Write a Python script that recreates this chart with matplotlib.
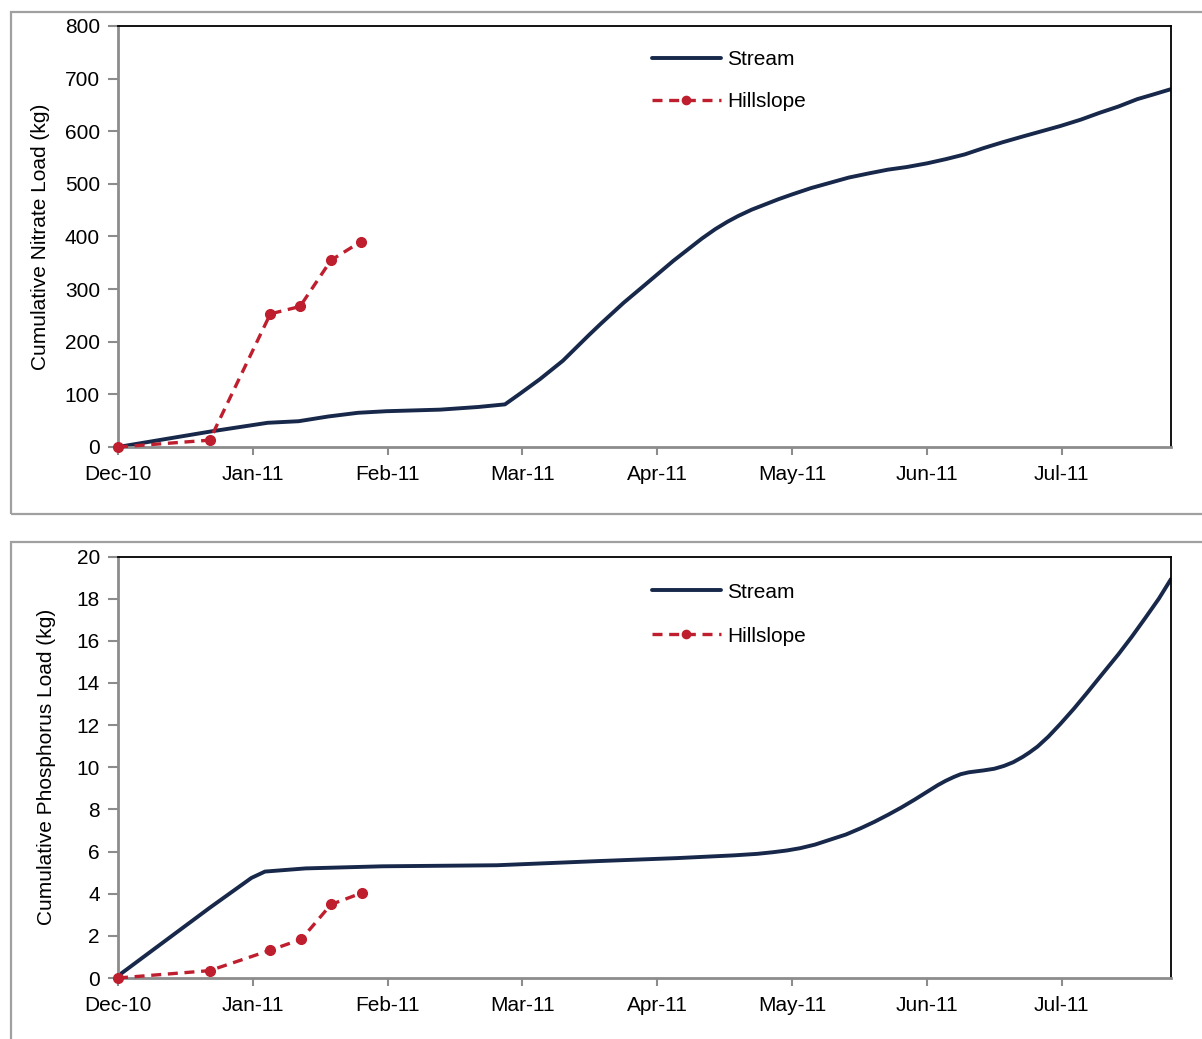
import numpy as np
import matplotlib
matplotlib.use('Agg')
import matplotlib.pyplot as plt
from matplotlib.patches import Rectangle

plt.rcParams['font.family'] = ['Liberation Sans', 'DejaVu Sans']

# x values are in months after 1 Dec 2010 (0 = Dec-10, 1 = Jan-11, ...)
month_labels = ['Dec-10', 'Jan-11', 'Feb-11', 'Mar-11', 'Apr-11', 'May-11', 'Jun-11', 'Jul-11']

# Nitrate, stream
no3_stream_x = [0, 0.70, 1.11, 1.34, 1.56, 1.78, 1.99, 2.39, 2.67, 2.87, 2.98, 3.13, 3.30, 3.49,
                3.58, 3.75, 3.88, 4.00, 4.12, 4.23, 4.33, 4.43, 4.52, 4.60, 4.70, 4.80, 4.90,
                5.00, 5.14, 5.28, 5.42, 5.57, 5.71, 5.85, 6.00, 6.14, 6.28, 6.42,
                6.56, 6.71, 6.85, 6.99, 7.14, 7.28, 7.42, 7.56, 7.68, 7.81]
no3_stream_y = [0, 30, 46, 49, 58, 65, 68, 71, 76, 81, 101, 129, 164, 212,
                234, 274, 302, 328, 354, 376, 396, 414, 428, 439, 451, 461, 471,
                480, 492, 502, 512, 520, 527, 532, 539, 547, 556, 568,
                579, 590, 600, 610, 622, 635, 647, 661, 670, 680]
# Nitrate, hillslope
no3_hill_x = [0, 0.68, 1.13, 1.35, 1.58, 1.80]
no3_hill_y = [0, 13, 253, 267, 355, 390]

# Phosphorus, stream
tp_stream_x = [0, 0.68, 0.99, 1.09, 1.39, 1.96, 2.81, 3.57, 4.15, 4.57, 4.74, 4.86, 4.96, 5.06,
               5.17, 5.28, 5.40, 5.51, 5.61, 5.71, 5.81, 5.91, 6.00, 6.08, 6.14, 6.20, 6.25,
               6.31, 6.37, 6.42, 6.50, 6.57, 6.64, 6.71, 6.76, 6.82, 6.90, 6.99, 7.09, 7.19,
               7.30, 7.42, 7.52, 7.62, 7.72, 7.81]
tp_stream_y = [0.1, 3.33, 4.75, 5.05, 5.2, 5.3, 5.35, 5.55, 5.69, 5.82, 5.89, 5.97, 6.05, 6.16,
               6.33, 6.56, 6.81, 7.11, 7.41, 7.74, 8.09, 8.47, 8.83, 9.15, 9.36, 9.54, 9.67,
               9.76, 9.81, 9.85, 9.93, 10.06, 10.24, 10.49, 10.70, 10.98, 11.45, 12.06, 12.78, 13.55,
               14.42, 15.36, 16.20, 17.09, 18.00, 18.93]
# Phosphorus, hillslope
tp_hill_x = [0, 0.68, 1.13, 1.36, 1.58, 1.81]
tp_hill_y = [0, 0.35, 1.32, 1.84, 3.49, 4.04]

stream_col = '#17284a'
hill_col = '#be1e2d'
gray = '#8c8c8c'
fs = 15

W, H = 1202, 1039
fig = plt.figure(figsize=(W / 100, H / 100), dpi=100)

# outer gray frames
for top, bot in [(12, 514), (542, 1070)]:
    fig.patches.append(Rectangle((11 / W, 1 - bot / H), (1230 - 11) / W, (bot - top) / H,
                                 transform=fig.transFigure, fill=False, edgecolor='#a0a0a0',
                                 lw=1.6, clip_on=False))


def panel(rect, sx, sy, hx, hy, ymax, ystep, ylabel, leg_y, lspace, lpad):
    ax = fig.add_axes(rect)
    ax.plot(sx, sy, color=stream_col, lw=2.8, label='Stream', solid_capstyle='round',
            solid_joinstyle='round')
    ax.plot(hx, hy, color=hill_col, lw=2.4, ls=(0, (3, 2)), marker='o', ms=7,
            label='Hillslope', clip_on=False, zorder=3)
    ax.set_xlim(0, 7.81)
    ax.set_ylim(0, ymax)
    ax.set_xticks(range(len(month_labels)))
    ax.set_xticklabels(month_labels, fontsize=fs)
    ax.set_yticks(np.arange(0, ymax + ystep / 2, ystep))
    ax.tick_params(axis='y', labelsize=fs, length=7, width=1.5, color=gray, direction='out', pad=6)
    ax.tick_params(axis='x', labelsize=fs, length=6, width=1.5, color=gray, direction='out', pad=7)
    for s in ['left', 'bottom']:
        ax.spines[s].set_color(gray)
        ax.spines[s].set_linewidth(2)
    for s in ['top', 'right']:
        ax.spines[s].set_color('black')
        ax.spines[s].set_linewidth(1.3)
    ax.set_ylabel(ylabel, fontsize=fs, labelpad=lpad)
    ax.legend(loc='upper left', bbox_to_anchor=(0.497, leg_y), frameon=False, fontsize=fs,
              handlelength=3.3, handletextpad=0.3, labelspacing=lspace, borderpad=0,
              numpoints=1, markerscale=0.85)
    return ax


ax1 = panel([118 / W, 1 - 447 / H, 1053 / W, 421 / H], no3_stream_x, no3_stream_y,
            no3_hill_x, no3_hill_y, 800, 100, 'Cumulative Nitrate Load (kg)', 0.967, 1.1, 11)
ax2 = panel([118 / W, 1 - 978 / H, 1053 / W, 421.5 / H], tp_stream_x, tp_stream_y,
            tp_hill_x, tp_hill_y, 20, 2, 'Cumulative Phosphorus Load (kg)', 0.963, 1.21, 15)

fig.savefig('out.png', dpi=100)
